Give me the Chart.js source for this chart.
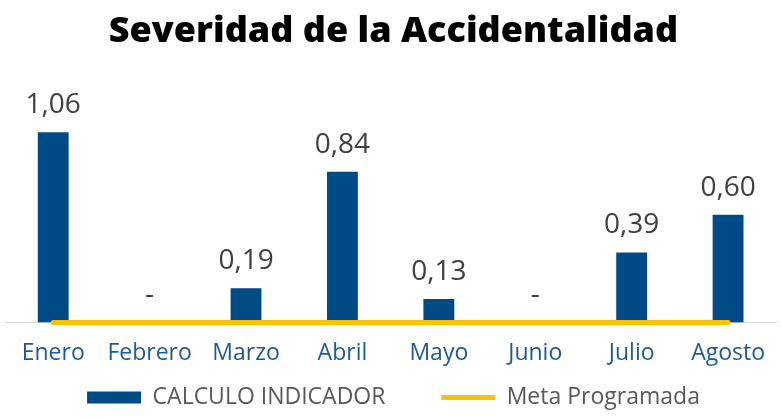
<!DOCTYPE html>
<html>
<head>
<meta charset="utf-8">
<script src="https://cdn.jsdelivr.net/npm/chart.js@4/dist/chart.umd.min.js"></script>
<style>
  html, body { margin: 0; padding: 0; background: #fff; }
  #wrap { width: 782px; height: 419px; }
</style>
</head>
<body>
<div id="wrap"><canvas id="chart"></canvas></div>
<script>
const months = ["Enero", "Febrero", "Marzo", "Abril", "Mayo", "Junio", "Julio", "Agosto"];
const indicador = [1.06, 0, 0.19, 0.84, 0.13, 0, 0.39, 0.60];
const meta = [0, 0, 0, 0, 0, 0, 0, 0];

const BLUE = "#004A86";
const YELLOW = "#FFC000";

// Excel-style labels above bars, "-" for zero
const valueLabels = {
  id: "valueLabels",
  afterDatasetsDraw(chart) {
    const ctx = chart.ctx;
    const meta0 = chart.getDatasetMeta(0);
    ctx.save();
    ctx.font = "28px 'Open Sans'";
    ctx.fillStyle = "#404040";
    ctx.textAlign = "center";
    ctx.textBaseline = "bottom";
    meta0.data.forEach((bar, i) => {
      const v = indicador[i];
      const text = v === 0 ? "-" : v.toFixed(2).replace(".", ",");
      ctx.fillText(text, bar.x, bar.y - 13);
    });
    ctx.restore();
  },
};

new Chart(document.getElementById("chart"), {
  data: {
    labels: months,
    datasets: [
      {
        type: "bar",
        label: "CALCULO INDICADOR",
        data: indicador,
        backgroundColor: BLUE,
        barPercentage: 0.32,
        categoryPercentage: 1,
        pointStyle: "rect",
        order: 2,
      },
      {
        type: "line",
        label: "Meta Programada",
        data: meta,
        borderColor: YELLOW,
        backgroundColor: YELLOW,
        borderWidth: 5,
        borderCapStyle: "round",
        pointRadius: 0,
        pointStyle: "line",
        clip: false,
        order: 1,
      },
    ],
  },
  options: {
    responsive: true,
    maintainAspectRatio: false,
    animation: false,
    layout: { autoPadding: false, padding: { left: 5, right: 0, top: 10, bottom: 0 } },
    scales: {
      x: {
        grid: { display: false, drawTicks: false },
        border: { color: "#D9D9D9", width: 1 },
        ticks: {
          color: "#1F5A96",
          font: { family: "'Open Sans'", size: 23 },
          padding: 17,
        },
      },
      y: {
        display: false,
        min: 0,
        max: 1.3,
      },
    },
    plugins: {
      title: {
        display: true,
        text: "Severidad de la Accidentalidad",
        color: "#000",
        font: { family: "'Open Sans'", size: 36, weight: "800" },
        padding: { top: 0, bottom: 36 },
      },
      legend: {
        position: "bottom",
        labels: {
          usePointStyle: true,
          pointStyleWidth: 54,
          boxHeight: 12,
          color: "#595959",
          font: { family: "'Open Sans'", size: 23 },
          padding: 2,
          sort: (a, b) => a.datasetIndex - b.datasetIndex,
          // wider gap between the two entries, as in the original
          generateLabels(chart) {
            const items = Chart.defaults.plugins.legend.labels.generateLabels(chart);
            items.forEach((item) => {
              if (item.datasetIndex === 0) item.text += "         ";
            });
            return items;
          },
        },
      },
      tooltip: { enabled: false },
    },
  },
  plugins: [valueLabels],
});
</script>
</body>
</html>
